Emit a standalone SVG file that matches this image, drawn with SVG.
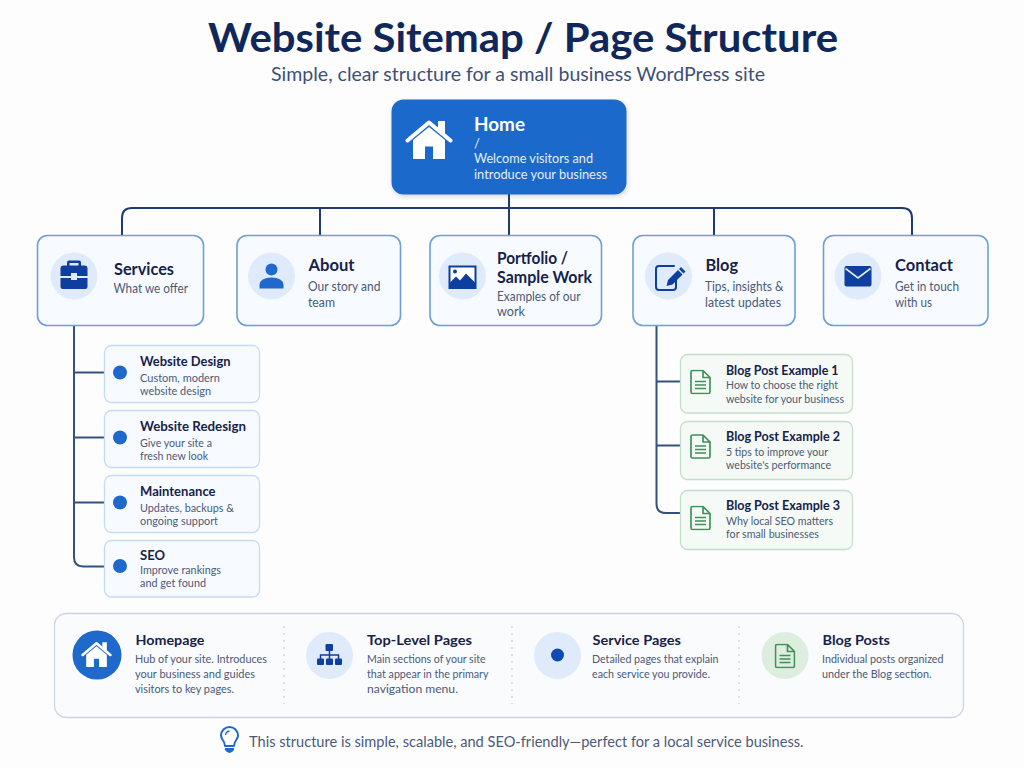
<svg xmlns="http://www.w3.org/2000/svg" width="1024" height="768" viewBox="0 0 1024 768">
<style>
text{font-family:"Lato","Liberation Sans",sans-serif;fill:#4b5a76;font-size:12px}
.t{font-weight:700;fill:#16224a}
.h1{font-size:41px;font-weight:700;fill:#10275a}
.h2{font-size:19px;fill:#3f5076}
.c{font-size:17px}
.p{font-size:12.5px}
.s{font-size:13.5px}
.d{font-size:11px}
.l{font-size:14.5px}
.w{fill:#fff}
.card{fill:#f7fbff;stroke:#6f9ed8;stroke-width:1.6}
.sub{fill:#f7faff;stroke:#c6dbf4;stroke-width:1.3}
.gr{fill:#f5faf6;stroke:#c4e0cc;stroke-width:1.3}
.lc{fill:#dfebfa}
.con{fill:none;stroke:#1f3a6e;stroke-width:2}
.con2{fill:none;stroke:#34507f;stroke-width:2}
.doc{fill:none;stroke:#3f9159;stroke-width:1.7;stroke-linejoin:round}
.div{stroke:#ccd2dc;stroke-width:1.3;stroke-dasharray:2 5}
.dot{fill:#1f69cc}
</style>
<defs>
<symbol id="house" viewBox="0 0 48 40">
<path d="M33 2h7v15l-7-6z" fill="currentColor"/>
<path d="M2.500 21.500 24 3.500 45.500 21.500" fill="none" stroke="currentColor" stroke-width="4" stroke-linecap="round" stroke-linejoin="round"/>
<path fill-rule="evenodd" d="M8 21 24 8 40 21V40H8ZM20 27.500V40H28V27.500Z" fill="currentColor"/>
</symbol>
<symbol id="docg" viewBox="0 0 21 25">
<path class="doc" d="M1 2.500Q1 1 2.500 1H13L20 8V22.500Q20 24 18.500 24H2.500Q1 24 1 22.500ZM13 1V8H20M5 12H16M5 15.500H16M5 19H16"/>
</symbol>
<filter id="sh" x="-5%" y="-5%" width="110%" height="115%"><feDropShadow dx="1" dy="2" stdDeviation="2" flood-color="#1b3a70" flood-opacity=".18"/></filter>
</defs>
<rect width="1024" height="768" fill="#fdfdfe"/>
<text class="h1" x="208" y="52" textLength="630" lengthAdjust="spacingAndGlyphs">Website Sitemap / Page Structure</text>
<text class="h2" x="271" y="81" textLength="494" lengthAdjust="spacingAndGlyphs">Simple, clear structure for a small business WordPress site</text>

<g id="connectors">
<path class="con" d="M509 194V236M122 236V218Q122 208 132 208H902Q912 208 912 218V236M320 208V236M714 208V236"/>
<path class="con2" d="M74 325V557Q74 566.500 83 566.500H104M74 372.500H104M74 437.500H104M74 502.500H104"/>
<path class="con2" d="M656.500 325V504Q656.500 513 666 513H680M656.500 381.500H680M656.500 445.500H680"/>
</g>

<g id="home">
<rect x="391.500" y="99.500" width="235" height="95" rx="12" fill="#1f69cc" filter="url(#sh)"/>
<use href="#house" x="405" y="119" width="48" height="40" color="#fff"/>
<text class="t w" x="474" y="131" style="font-size:19px;fill:#fff" textLength="51" lengthAdjust="spacingAndGlyphs">Home</text>
<text class="w" x="474" y="147.500" style="font-size:13px;fill:#e4eefb">/</text>
<text class="w" x="474" y="163" style="font-size:13px;fill:#e4eefb" textLength="119" lengthAdjust="spacingAndGlyphs">Welcome visitors and</text>
<text class="w" x="474" y="179" style="font-size:13px;fill:#e4eefb" textLength="133" lengthAdjust="spacingAndGlyphs">introduce your business</text>
</g>

<g id="services">
<rect class="card" x="37.500" y="235.500" width="166" height="90" rx="10"/>
<circle class="lc" cx="74" cy="276" r="23.500"/>
<path fill="#0f3f9e" d="M60.500 268.500Q60.500 265.500 63.500 265.500H67V262.500Q67 260.500 69 260.500H79Q81 260.500 81 262.500V265.500H84.500Q87.500 265.500 87.500 268.500V276H77V273H71V276H60.500ZM69.500 265.500H78.500V263H69.500ZM60.500 278H71V280H77V278H87.500V286.500Q87.500 289 85 289H63Q60.500 289 60.500 286.500Z"/>
<text class="t c" x="114" y="275" textLength="60" lengthAdjust="spacingAndGlyphs">Services</text>
<text class="p" x="113.500" y="293" textLength="74.500" lengthAdjust="spacingAndGlyphs">What we offer</text>
</g>

<g id="about">
<rect class="card" x="237" y="235.500" width="163.500" height="90" rx="10"/>
<circle class="lc" cx="271.500" cy="276" r="23.500"/>
<circle cx="271.500" cy="269.500" r="6" fill="#1f69cc"/>
<path fill="#1f69cc" d="M259.500 288.500V285Q260 277.500 271.500 277.500T283.500 285V288.500Z"/>
<text class="t c" x="308.500" y="271" textLength="46" lengthAdjust="spacingAndGlyphs">About</text>
<text class="p" x="308" y="291" textLength="72.500" lengthAdjust="spacingAndGlyphs">Our story and</text>
<text class="p" x="308" y="306.500" textLength="27" lengthAdjust="spacingAndGlyphs">team</text>
</g>

<g id="portfolio">
<rect class="card" x="430" y="235.500" width="171.500" height="90" rx="10"/>
<circle class="lc" cx="462.500" cy="276" r="23.500"/>
<rect x="449.500" y="266.500" width="26" height="21.500" fill="#fff" stroke="#0f3f9e" stroke-width="2"/>
<circle cx="455" cy="271.500" r="2" fill="#0f3f9e"/>
<path fill="#0f3f9e" d="M449.500 288V283L456 276.500 460 280.500 466 273.500 475.500 283V288Z"/>
<text class="t c" x="497" y="263.500" textLength="71" lengthAdjust="spacingAndGlyphs">Portfolio /</text>
<text class="t c" x="497" y="282.500" textLength="95" lengthAdjust="spacingAndGlyphs">Sample Work</text>
<text class="p" x="497" y="301" textLength="83.500" lengthAdjust="spacingAndGlyphs">Examples of our</text>
<text class="p" x="497" y="316" textLength="28" lengthAdjust="spacingAndGlyphs">work</text>
</g>

<g id="blog">
<rect class="card" x="633" y="235.500" width="162" height="90" rx="10"/>
<circle class="lc" cx="668.500" cy="276" r="23.500"/>
<path fill="none" stroke="#0f3f9e" stroke-width="2" stroke-linecap="round" d="M674 266H659Q656 266 656 269V287Q656 290 659 290H673Q676 290 676 287V279"/>
<path fill="#0f3f9e" d="M666.500 286 668 280 678 270 682.500 274.500 672.500 284.500ZM679 269 681 267 685.500 271.500 683.500 273.500Z"/>
<text class="t c" x="705.500" y="271" textLength="32.500" lengthAdjust="spacingAndGlyphs">Blog</text>
<text class="p" x="705" y="291" textLength="78.500" lengthAdjust="spacingAndGlyphs">Tips, insights &amp;</text>
<text class="p" x="705" y="306.500" textLength="76" lengthAdjust="spacingAndGlyphs">latest updates</text>
</g>

<g id="contact">
<rect class="card" x="823.500" y="235.500" width="164.500" height="90" rx="10"/>
<circle class="lc" cx="858" cy="276" r="23.500"/>
<rect x="844.500" y="266" width="27" height="20.500" rx="2" fill="#0f3f9e"/>
<path fill="none" stroke="#dfebfa" stroke-width="1.600" d="M845.500 268.500 858 278 870.500 268.500"/>
<text class="t c" x="895" y="271" textLength="58" lengthAdjust="spacingAndGlyphs">Contact</text>
<text class="p" x="895" y="291" textLength="64" lengthAdjust="spacingAndGlyphs">Get in touch</text>
<text class="p" x="895" y="306.500" textLength="37" lengthAdjust="spacingAndGlyphs">with us</text>
</g>

<g id="website-design">
<rect class="sub" x="104.500" y="345.500" width="155" height="57" rx="7"/>
<circle class="dot" cx="120" cy="372.500" r="7"/>
<text class="t s" x="140" y="366" textLength="90.500" lengthAdjust="spacingAndGlyphs">Website Design</text>
<text class="d" x="140" y="382" textLength="80" lengthAdjust="spacingAndGlyphs">Custom, modern</text>
<text class="d" x="140" y="395" textLength="71" lengthAdjust="spacingAndGlyphs">website design</text>
</g>
<g id="website-redesign">
<rect class="sub" x="104.500" y="410.500" width="155" height="57" rx="7"/>
<circle class="dot" cx="120" cy="437.500" r="7"/>
<text class="t s" x="140" y="431" textLength="106" lengthAdjust="spacingAndGlyphs">Website Redesign</text>
<text class="d" x="140" y="446.500" textLength="72" lengthAdjust="spacingAndGlyphs">Give your site a</text>
<text class="d" x="140" y="459.500" textLength="68" lengthAdjust="spacingAndGlyphs">fresh new look</text>
</g>
<g id="maintenance">
<rect class="sub" x="104.500" y="475.500" width="155" height="57" rx="7"/>
<circle class="dot" cx="120" cy="502.500" r="7"/>
<text class="t s" x="140" y="496" textLength="75.500" lengthAdjust="spacingAndGlyphs">Maintenance</text>
<text class="d" x="140" y="512" textLength="94" lengthAdjust="spacingAndGlyphs">Updates, backups &amp;</text>
<text class="d" x="140" y="525" textLength="78" lengthAdjust="spacingAndGlyphs">ongoing support</text>
</g>
<g id="seo">
<rect class="sub" x="104.500" y="540.500" width="155" height="56.500" rx="7"/>
<circle class="dot" cx="120" cy="566" r="7"/>
<text class="t s" x="140" y="560" textLength="25" lengthAdjust="spacingAndGlyphs">SEO</text>
<text class="d" x="140" y="574" textLength="81" lengthAdjust="spacingAndGlyphs">Improve rankings</text>
<text class="d" x="140" y="587" textLength="66" lengthAdjust="spacingAndGlyphs">and get found</text>
</g>

<g id="post-1">
<rect class="gr" x="680.500" y="354.500" width="172" height="58.500" rx="7"/>
<use href="#docg" x="690" y="369.500" width="21" height="25"/>
<text class="t s" x="726" y="374.500" style="font-size:12.500px" textLength="112.500" lengthAdjust="spacingAndGlyphs">Blog Post Example 1</text>
<text class="d" x="726" y="389" textLength="112" lengthAdjust="spacingAndGlyphs">How to choose the right</text>
<text class="d" x="726" y="402.500" textLength="118" lengthAdjust="spacingAndGlyphs">website for your business</text>
</g>
<g id="post-2">
<rect class="gr" x="680.500" y="421.500" width="172" height="58" rx="7"/>
<use href="#docg" x="690" y="434" width="21" height="25"/>
<text class="t s" x="726" y="441" style="font-size:12.500px" textLength="114" lengthAdjust="spacingAndGlyphs">Blog Post Example 2</text>
<text class="d" x="726" y="456" textLength="102" lengthAdjust="spacingAndGlyphs">5 tips to improve your</text>
<text class="d" x="726" y="469" textLength="105" lengthAdjust="spacingAndGlyphs">website's performance</text>
</g>
<g id="post-3">
<rect class="gr" x="680.500" y="490.500" width="172" height="59" rx="7"/>
<use href="#docg" x="690" y="505.500" width="21" height="25"/>
<text class="t s" x="726" y="509.500" style="font-size:12.500px" textLength="114" lengthAdjust="spacingAndGlyphs">Blog Post Example 3</text>
<text class="d" x="726" y="525" textLength="107" lengthAdjust="spacingAndGlyphs">Why local SEO matters</text>
<text class="d" x="726" y="538" textLength="93" lengthAdjust="spacingAndGlyphs">for small businesses</text>
</g>

<g id="legend">
<rect x="54.500" y="613.500" width="909" height="104" rx="12" fill="#fafbfc" stroke="#ccd4e2" stroke-width="1.300"/>
<path class="div" d="M284 626V704M512 626V704M739 626V704"/>
<circle cx="97" cy="655" r="24.500" fill="#1f69cc"/>
<use href="#house" x="81" y="641" width="31" height="26" color="#fff"/>
<text class="t" x="135.500" y="644.500" style="font-size:14px" textLength="69" lengthAdjust="spacingAndGlyphs">Homepage</text>
<text class="d" x="135" y="662.500" textLength="132" lengthAdjust="spacingAndGlyphs">Hub of your site. Introduces</text>
<text class="d" x="135" y="677.500" textLength="120" lengthAdjust="spacingAndGlyphs">your business and guides</text>
<text class="d" x="135" y="692.500" textLength="99" lengthAdjust="spacingAndGlyphs">visitors to key pages.</text>
<circle class="lc" cx="329.500" cy="655.500" r="23.500"/>
<g fill="#0f3f9e"><rect x="325.500" y="644" width="7.500" height="7" rx="1"/><rect x="317" y="658.500" width="7" height="6.500" rx="1"/><rect x="326" y="658.500" width="7" height="6.500" rx="1"/><rect x="335" y="658.500" width="7" height="6.500" rx="1"/></g>
<path fill="none" stroke="#0f3f9e" stroke-width="1.500" d="M329.500 651V659M320.500 659V655H338.500V659"/>
<text class="t" x="367" y="644.500" style="font-size:14px" textLength="105" lengthAdjust="spacingAndGlyphs">Top-Level Pages</text>
<text class="d" x="367" y="662.500" textLength="118.500" lengthAdjust="spacingAndGlyphs">Main sections of your site</text>
<text class="d" x="367" y="677.500" textLength="121.500" lengthAdjust="spacingAndGlyphs">that appear in the primary</text>
<text class="d" x="367" y="692.500" textLength="91" lengthAdjust="spacingAndGlyphs">navigation menu.</text>
<circle class="lc" cx="557.500" cy="655.500" r="23.500"/>
<circle cx="557.500" cy="655" r="6.500" fill="#0f4bb0"/>
<text class="t" x="592.500" y="644.500" style="font-size:14px" textLength="88.500" lengthAdjust="spacingAndGlyphs">Service Pages</text>
<text class="d" x="592" y="662.500" textLength="126.500" lengthAdjust="spacingAndGlyphs">Detailed pages that explain</text>
<text class="d" x="592" y="677.500" textLength="118" lengthAdjust="spacingAndGlyphs">each service you provide.</text>
<circle cx="785" cy="655.500" r="23.500" fill="#deeede"/>
<use href="#docg" x="774.500" y="643.500" width="21" height="25"/>
<text class="t" x="822.500" y="644.500" style="font-size:14px" textLength="67.500" lengthAdjust="spacingAndGlyphs">Blog Posts</text>
<text class="d" x="822" y="662.500" textLength="121.500" lengthAdjust="spacingAndGlyphs">Individual posts organized</text>
<text class="d" x="822" y="677.500" textLength="109.500" lengthAdjust="spacingAndGlyphs">under the Blog section.</text>
</g>

<g id="footer">
<path fill="none" stroke="#1f69cc" stroke-width="2" stroke-linejoin="round" d="M225 746Q224.500 742 222.500 739.500Q221 737 221 735.500A8.500 8.500 0 0 1 238 735.500Q238 737 236.500 739.500Q234.500 742 234 746Z"/>
<path fill="none" stroke="#1f69cc" stroke-width="1.300" d="M225.500 735Q226 731.500 229.500 731"/>
<path fill="#1f69cc" d="M225 748H234V750Q232 753 229.500 753T225 750Z"/>
<text class="l" x="249" y="747" textLength="554.500" lengthAdjust="spacingAndGlyphs">This structure is simple, scalable, and SEO-friendly—perfect for a local service business.</text>
</g>
</svg>
